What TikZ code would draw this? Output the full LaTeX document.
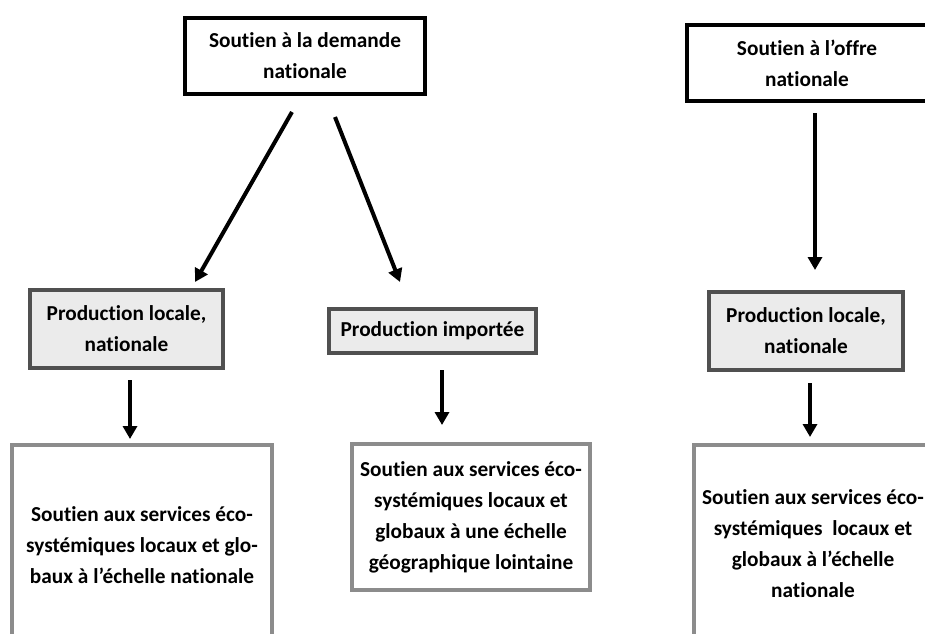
\documentclass[tikz,border=0pt]{standalone}
\usepackage{fontspec}
\setmainfont{Carlito}[Ligatures=NoCommon]
\usetikzlibrary{arrows.meta,calc}
\definecolor{midfill}{HTML}{EBEBEB}
\definecolor{midborder}{HTML}{505050}
\definecolor{botborder}{HTML}{8C8C8C}
\tikzset{
  box/.style={rectangle, line width=4pt, outer sep=0pt, inner sep=0pt, align=center,
    font=\fontsize{21.3}{31}\selectfont\bfseries},
  topbox/.style={box, draw=black, fill=white},
  midbox/.style={box, draw=midborder, fill=midfill},
  botbox/.style={box, draw=botborder, fill=white},
  arr/.style={line width=4pt, -{Triangle[length=13pt,width=14pt]}},
}
\begin{document}
\begin{tikzpicture}[x=1pt,y=-1pt]
\useasboundingbox (0,0) rectangle (925,633);
\clip (0,0) rectangle (925,633);
\fill[white] (0,0) rectangle (925,633);
% top boxes
\node[topbox, minimum width=240pt, minimum height=76pt] (top1) at (305,56) {Soutien à la demande\\nationale};
\node[topbox, minimum width=240pt, minimum height=76pt] (top2) at (807,63) {Soutien à l’offre\\nationale};
% middle boxes
\node[midbox, minimum width=193pt, minimum height=78pt] (mid1) at (126.5,329) {Production locale,\\nationale};
\node[midbox, minimum width=207pt, minimum height=44pt] (mid2) at (432.5,331) {Production importée};
\node[midbox, minimum width=194pt, minimum height=78pt] (mid3) at (806,331) {Production locale,\\nationale};
% bottom boxes
\node[botbox, minimum width=260pt, minimum height=200pt] (bot1) at (142,545) {Soutien aux services éco-\\systémiques locaux et glo-\\baux à l’échelle nationale};
\node[botbox, minimum width=238pt, minimum height=146pt] (bot2) at (471,517) {Soutien aux services éco-\\systémiques locaux et\\globaux à une échelle\\géographique lointaine};
\node[botbox, minimum width=238pt, minimum height=198pt] (bot3) at (813,544) {Soutien aux services éco-\\systémiques~ locaux et\\globaux à l’échelle\\nationale};
% arrows
\draw[arr] ($(top1.south)+(-13,18)$) -- ($(mid1.north)+(68.5,-8)$);
\draw[arr] ($(top1.south)+(30,23)$) -- ($(mid2.north)+(-32.5,-27)$);
\draw[arr] ($(top2.south)+(8,12)$) -- ($(mid3.north)+(9,-22)$);
\draw[arr] ($(mid1.south)+(3.5,12)$) -- ($(bot1.north)+(-12,-6)$);
\draw[arr] ($(mid2.south)+(9.5,17)$) -- ($(bot2.north)+(-29,-19)$);
\draw[arr] ($(mid3.south)+(4,13)$) -- ($(bot3.north)+(-3,-8)$);
\end{tikzpicture}
\end{document}
